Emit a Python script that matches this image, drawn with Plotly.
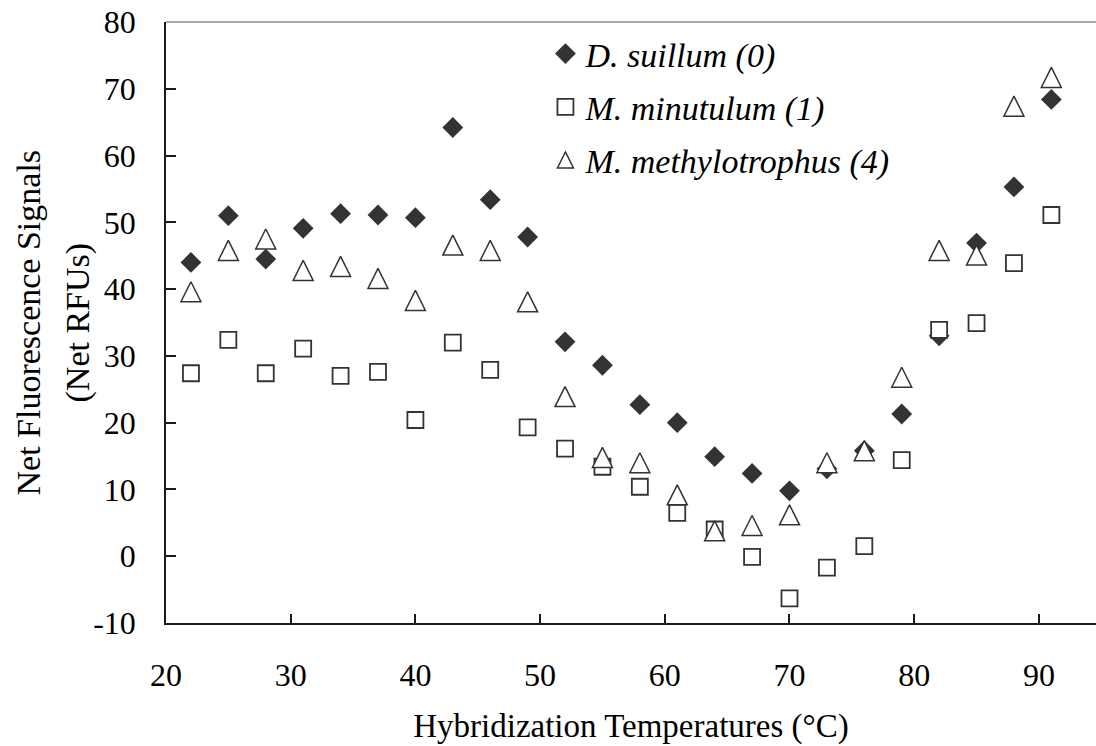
import plotly.graph_objects as go

# Hybridization temperatures (°C) and net fluorescence signals (net RFUs)
temps = [22, 25, 28, 31, 34, 37, 40, 43, 46, 49, 52, 55,
         58, 61, 64, 67, 70, 73, 76, 79, 82, 85, 88, 91]

d_suillum = [44.0, 51.0, 44.5, 49.1, 51.3, 51.1, 50.7, 64.2, 53.4, 47.8, 32.1, 28.6,
             22.7, 20.0, 14.9, 12.4, 9.8, 13.1, 15.8, 21.3, 33.0, 46.9, 55.3, 68.4]

m_minutulum = [27.4, 32.4, 27.4, 31.1, 27.0, 27.6, 20.4, 32.0, 27.9, 19.3, 16.1, 13.4,
               10.4, 6.5, 4.0, -0.1, -6.3, -1.7, 1.5, 14.4, 33.9, 34.9, 43.9, 51.1]

m_methylotrophus = [39.6, 45.8, 47.5, 42.8, 43.4, 41.6, 38.3, 46.6, 45.8, 38.1, 23.9, 14.8,
                    14.0, 9.2, 3.8, 4.6, 6.2, 14.0, 15.8, 26.8, 45.8, 45.1, 67.4, 71.7]

series_names = ["D. suillum (0)", "M. minutulum (1)", "M. methylotrophus (4)"]

x_ticks = [20, 30, 40, 50, 60, 70, 80, 90]
y_ticks = [-10, 0, 10, 20, 30, 40, 50, 60, 70, 80]

FONT = "Liberation Serif, Times New Roman, serif"
INK = "#333333"
AXIS = "#1a1a1a"

fig = go.Figure()

fig.add_trace(go.Scatter(
    x=temps, y=d_suillum, mode="markers", name=series_names[0], legendgroup="ds",
    marker=dict(symbol="diamond", size=16, color=INK, line=dict(width=0)),
))

fig.add_trace(go.Scatter(
    x=temps, y=m_minutulum, mode="markers", name=series_names[1], legendgroup="mm",
    marker=dict(symbol="square", size=16, color="white", line=dict(color=INK, width=1.8)),
))

# Tall open triangles: the arrow glyph is turned upright and pushed back
# by its half-height so that it sits centred on each point.
fig.add_trace(go.Scatter(
    x=temps, y=m_methylotrophus, mode="markers", name=series_names[2], legendgroup="mt",
    showlegend=False,
    marker=dict(symbol="arrow-down", angle=180, standoff=10, size=20,
                color="white", line=dict(color=INK, width=1.5)),
))

# Legend key for the triangle series (a single null point, nothing plotted)
fig.add_trace(go.Scatter(
    x=[None], y=[None], mode="markers", name=series_names[2], legendgroup="mt",
    marker=dict(symbol="arrow-up", standoff=8, size=16,
                color="white", line=dict(color=INK, width=1.5)),
))

fig.update_layout(
    width=1096, height=746, autosize=False,
    margin=dict(l=166, r=0, t=22, b=123),
    plot_bgcolor="white", paper_bgcolor="white",
    font=dict(family=FONT, size=32, color="black"),
    showlegend=True,
    legend=dict(
        x=0.408, y=0.995, xanchor="left", yanchor="top",
        bgcolor="rgba(0,0,0,0)", borderwidth=0,
        font=dict(family=FONT, size=34, style="italic", color="black"),
        tracegroupgap=6, itemclick=False, itemdoubleclick=False,
    ),
    xaxis=dict(
        range=[20, 94.58], tickvals=x_ticks, ticktext=[str(v) for v in x_ticks],
        ticks="inside", ticklen=9, tickwidth=1.5, tickcolor=AXIS,
        showline=True, linecolor=AXIS, linewidth=1.5,
        showgrid=False, zeroline=False, ticklabelstandoff=23,
        tickfont=dict(size=32),
        title=dict(text="Hybridization Temperatures (°C)", standoff=22,
                   font=dict(size=33)),
    ),
    yaxis=dict(
        range=[-10, 80], tickvals=y_ticks, ticktext=[str(v) for v in y_ticks],
        ticks="inside", ticklen=10, tickwidth=1.5, tickcolor=AXIS,
        showline=True, linecolor=AXIS, linewidth=1.5,
        showgrid=False, zeroline=False, ticklabelstandoff=22,
        tickfont=dict(size=32),
    ),
    shapes=[dict(type="line", xref="paper", yref="paper", x0=0, x1=1, y0=1, y1=1,
                 line=dict(color="#8c8c8c", width=1.5))],
    annotations=[
        dict(text="Net Fluorescence Signals", xref="paper", yref="paper",
             x=0, y=0.5, xanchor="center", yanchor="middle", xshift=-138,
             textangle=-90, showarrow=False, font=dict(size=34)),
        dict(text="(Net RFUs)", xref="paper", yref="paper",
             x=0, y=0.5, xanchor="center", yanchor="middle", xshift=-89,
             textangle=-90, showarrow=False, font=dict(size=34)),
    ],
)

fig.write_html("out.html")
